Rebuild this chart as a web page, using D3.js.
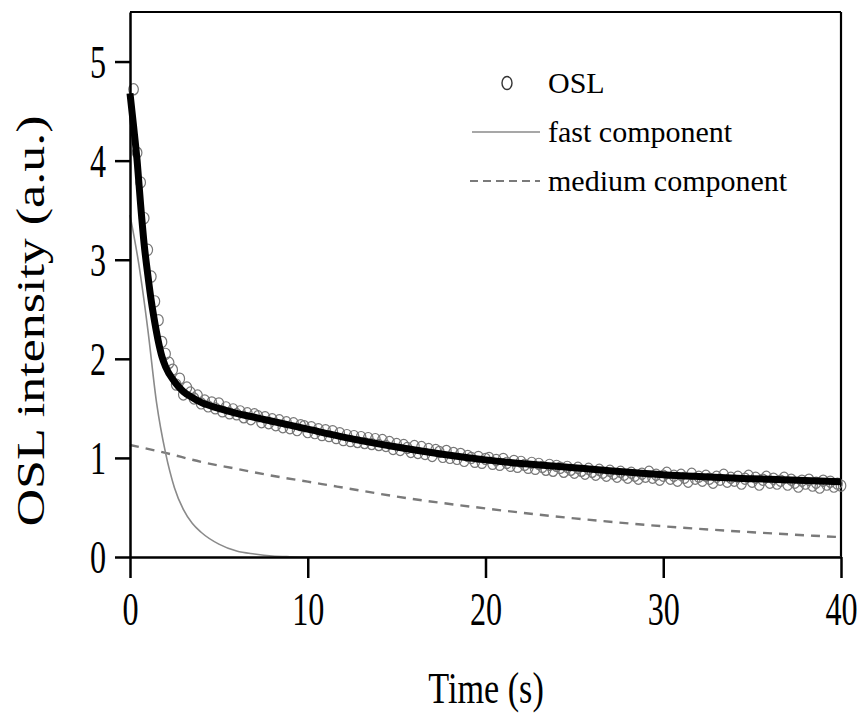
<!DOCTYPE html>
<html>
<head>
<meta charset="utf-8">
<script src="https://cdn.jsdelivr.net/npm/d3@7"></script>
<style>
  html, body { margin: 0; padding: 0; background: #fff; }
  svg { display: block; }
  text { font-family: "Liberation Serif", "Times New Roman", serif; fill: #000; }
</style>
</head>
<body>
<svg id="chart" width="860" height="714"></svg>
<script>
// ---- data ----
const xTicks = [0, 10, 20, 30, 40];
const yTicks = [0, 1, 2, 3, 4, 5];
const xTitle = "Time (s)";
const yTitle = "OSL intensity (a.u.)";
const legendLabels = ["OSL", "fast component", "medium component"];

// OSL measurements: one value every 0.2 s from 0.2 s to 40 s
const oslStart = 0.2, oslStep = 0.2;
const oslValues = [
  4.72,4.08,3.78,3.42,3.10,2.83,2.58,2.39,2.17,2.05,
  1.96,1.89,1.74,1.80,1.64,1.71,1.66,1.60,1.63,1.55,
  1.58,1.52,1.56,1.50,1.55,1.47,1.51,1.45,1.49,1.44,
  1.47,1.41,1.45,1.39,1.44,1.42,1.36,1.41,1.35,1.39,
  1.33,1.38,1.31,1.36,1.30,1.35,1.28,1.33,1.32,1.26,
  1.31,1.25,1.29,1.23,1.28,1.22,1.27,1.20,1.25,1.18,
  1.23,1.17,1.22,1.16,1.21,1.15,1.20,1.14,1.19,1.13,
  1.18,1.12,1.16,1.09,1.14,1.08,1.13,1.10,1.06,1.12,
  1.05,1.11,1.04,1.09,1.02,1.08,1.06,1.01,1.07,1.00,
  1.05,0.99,1.04,0.97,1.02,1.00,0.96,1.01,0.95,0.99,
  1.00,0.94,0.98,0.93,0.99,0.95,0.92,0.97,0.91,0.96,
  0.93,0.90,0.95,0.89,0.94,0.91,0.88,0.93,0.87,0.92,
  0.90,0.86,0.91,0.88,0.85,0.90,0.87,0.84,0.89,0.86,
  0.83,0.88,0.85,0.82,0.87,0.84,0.81,0.86,0.83,0.80,
  0.85,0.82,0.79,0.84,0.81,0.86,0.80,0.83,0.78,0.82,
  0.85,0.79,0.82,0.77,0.83,0.80,0.76,0.84,0.79,0.81,
  0.77,0.82,0.79,0.75,0.81,0.78,0.83,0.76,0.80,0.77,
  0.81,0.74,0.79,0.82,0.76,0.80,0.73,0.78,0.81,0.75,
  0.79,0.74,0.77,0.80,0.73,0.78,0.75,0.71,0.77,0.74,
  0.78,0.72,0.75,0.70,0.77,0.73,0.76,0.71,0.74,0.72
];

// total fit curve
const fitTimes  = [0,0.2,0.4,0.6,0.8,1.0,1.2,1.4,1.6,1.8,2.0,2.5,3,3.5,4,5,6,7,8,10,12,15,20,25,30,35,40];
const fitValues = [4.68,4.35,4.0,3.55,3.15,2.85,2.58,2.36,2.17,2.02,1.92,1.77,1.67,1.61,1.56,1.50,1.45,1.41,1.37,1.29,1.21,1.11,0.98,0.90,0.83,0.79,0.76];

// fast component
const fastTimes  = [0,0.5,1.0,1.5,2.0,2.5,3.0,3.5,4,5,6,7,8,9,10,40];
const fastValues = [3.45,2.95,2.30,1.55,1.05,0.70,0.48,0.34,0.25,0.13,0.06,0.03,0.01,0.003,0,0];

// medium component
const medTimes  = [0,2,4,6,8,10,12,15,20,25,30,35,40];
const medValues = [1.13,1.05,0.96,0.89,0.82,0.76,0.70,0.61,0.49,0.39,0.31,0.25,0.20];

// ---- drawing ----
const svg = d3.select("#chart");
const x = d3.scaleLinear().domain([0, 40]).range([130, 841]);
const y = d3.scaleLinear().domain([0, 5.5]).range([557, 12]);

const grey = "#7a7a7a";

// frame top & right
svg.append("line").attr("x1", 130).attr("x2", 841).attr("y1", y(5.5)).attr("y2", y(5.5))
  .attr("stroke", "#000").attr("stroke-width", 2.2);
svg.append("line").attr("x1", x(40)).attr("x2", x(40)).attr("y1", y(5.5)).attr("y2", y(0))
  .attr("stroke", "#000").attr("stroke-width", 2.2);

const line = d3.line().x(d => x(d[0])).y(d => y(d[1])).curve(d3.curveMonotoneX);

// medium component (dashed)
svg.append("path").datum(medTimes.map((t, i) => [t, medValues[i]]))
  .attr("d", line).attr("fill", "none").attr("stroke", grey)
  .attr("stroke-width", 2.4).attr("stroke-dasharray", "9,7");

// fast component
svg.append("path").datum(fastTimes.map((t, i) => [t, fastValues[i]]))
  .attr("d", line).attr("fill", "none").attr("stroke", "#8a8a8a")
  .attr("stroke-width", 1.6);

// OSL points
const osl = oslValues.map((v, i) => [oslStart + i * oslStep, v]);
svg.append("g").selectAll("ellipse").data(osl).join("ellipse")
  .attr("cx", d => x(d[0])).attr("cy", d => y(d[1]))
  .attr("rx", 4.8).attr("ry", 5.6)
  .attr("fill", "none").attr("stroke", "#777").attr("stroke-width", 1.2);

// fit
svg.append("path").datum(fitTimes.map((t, i) => [t, fitValues[i]]))
  .attr("d", line).attr("fill", "none").attr("stroke", "#000")
  .attr("stroke-width", 7).attr("stroke-linejoin", "round");

// axes
const xAxis = svg.append("g").attr("transform", `translate(0,${y(0)})`)
  .call(d3.axisBottom(x).tickValues(xTicks).tickSize(21).tickSizeOuter(0).tickFormat(d3.format("d")));
xAxis.select(".domain").attr("stroke-width", 2.5);
xAxis.selectAll(".tick line").attr("stroke-width", 2.5);
xAxis.selectAll(".tick text")
  .attr("y", 0).attr("dy", 0)
  .attr("transform", "translate(0,68) scale(0.7,1)")
  .attr("font-size", 46).attr("font-family", "Liberation Serif");

const yAxis = svg.append("g").attr("transform", `translate(${x(0)},0)`)
  .call(d3.axisLeft(y).tickValues(yTicks).tickSize(15).tickSizeOuter(0).tickFormat(d3.format("d")));
yAxis.select(".domain").attr("stroke-width", 2.5);
yAxis.selectAll(".tick line").attr("stroke-width", 2.5);
yAxis.selectAll(".tick text")
  .attr("x", 0).attr("dy", "0.34em")
  .attr("transform", "translate(-24,0) scale(0.7,1)")
  .attr("text-anchor", "end")
  .attr("font-size", 46).attr("font-family", "Liberation Serif");

// axis titles
svg.append("text").text(xTitle)
  .attr("text-anchor", "middle").attr("font-size", 45)
  .attr("transform", "translate(486,703) scale(0.76,1)");
svg.append("text").text(yTitle)
  .attr("text-anchor", "middle").attr("font-size", 52)
  .attr("transform", "translate(44,321) scale(0.77,1) rotate(-90)");

// legend
const lg = svg.append("g");
const rows = [83, 132, 181];
lg.append("ellipse").attr("cx", 507).attr("cy", rows[0]).attr("rx", 5).attr("ry", 6.5)
  .attr("fill", "none").attr("stroke", "#333").attr("stroke-width", 1.4);
lg.append("line").attr("x1", 472).attr("x2", 540).attr("y1", rows[1]).attr("y2", rows[1])
  .attr("stroke", "#8a8a8a").attr("stroke-width", 1.6);
lg.append("line").attr("x1", 470).attr("x2", 540).attr("y1", rows[2]).attr("y2", rows[2])
  .attr("stroke", grey).attr("stroke-width", 2.2).attr("stroke-dasharray", "8,5");
legendLabels.forEach((l, i) => {
  lg.append("text").text(l).attr("x", 548).attr("y", rows[i] + 10).attr("font-size", 30);
});
</script>
</body>
</html>
